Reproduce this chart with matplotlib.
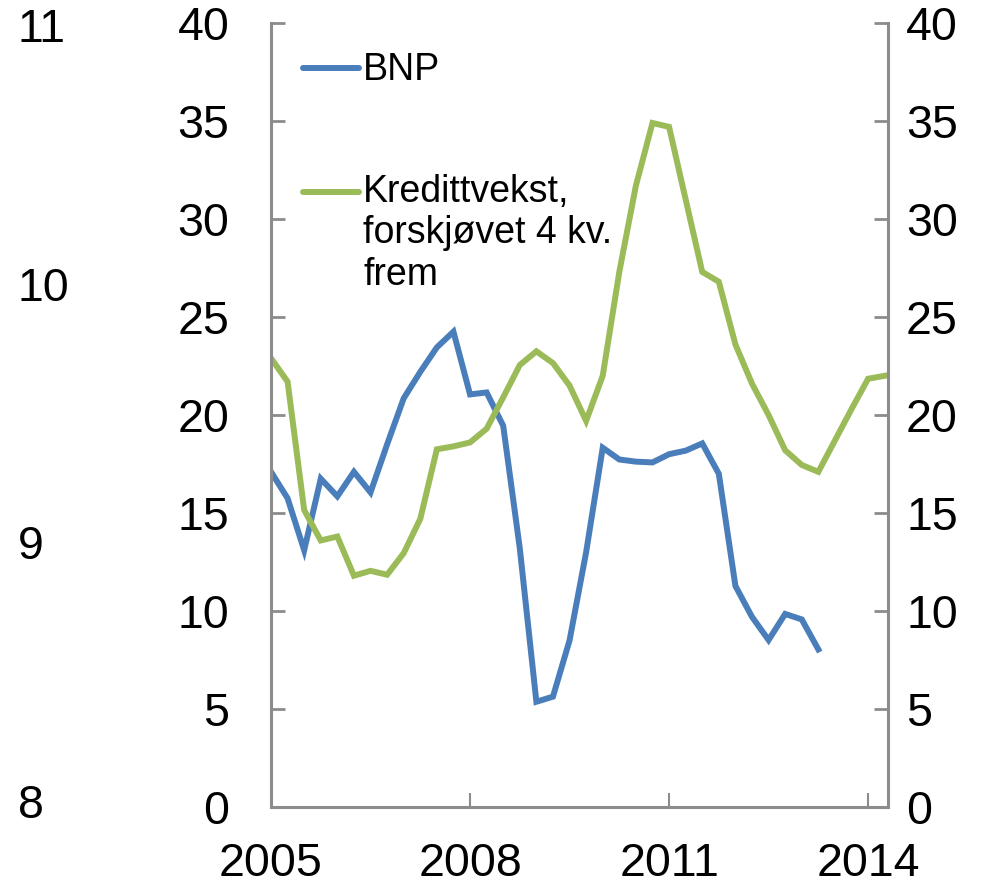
import matplotlib
matplotlib.use("Agg")
import matplotlib.pyplot as plt
from matplotlib.lines import Line2D

plt.rcParams['font.family'] = ['Liberation Sans', 'DejaVu Sans']

# ---- data (quarterly, 2005Q1 onwards) ----
bnp = [17.1, 15.75, 13.1, 16.75, 15.85, 17.1, 16.05, 18.5, 20.85, 22.2,
       23.45, 24.25, 21.05, 21.15, 19.45, 13.2, 5.37, 5.63, 8.5, 13.0,
       18.33, 17.73, 17.62, 17.58, 18.0, 18.18, 18.55, 17.0, 11.28, 9.7,
       8.52, 9.85, 9.57, 8.04]
kreditt = [22.9, 21.7, 15.15, 13.6, 13.8, 11.8, 12.05, 11.85, 12.95, 14.7,
           18.25, 18.4, 18.6, 19.3, 20.9, 22.55, 23.25, 22.65, 21.5, 19.7,
           22.0, 27.3, 31.7, 34.9, 34.7, 31.0, 27.3, 26.8, 23.6, 21.6,
           20.0, 18.2, 17.45, 17.1, 18.7, 20.3, 21.85, 22.0]
x_ticks = [0, 12, 24, 36]
x_labels = ["2005", "2008", "2011", "2014"]
y_ticks = [0, 5, 10, 15, 20, 25, 30, 35, 40]
far_ticks = [8, 9, 10, 11]
labels = ["BNP", "Kredittvekst,\nforskjøvet 4 kv.\nfrem"]

W, H = 998, 884
fig = plt.figure(figsize=(W / 100, H / 100), dpi=100)

L, R, T, B = 271, 888, 23, 807
ax = fig.add_axes([L / W, 1 - B / H, (R - L) / W, (B - T) / H])

blue = "#4a7ebb"
green = "#9bbb59"
grey = "#8c8c8c"
fs = 33.5
lw = 4.3

ax.plot(range(len(bnp)), bnp, color=blue, lw=lw, solid_joinstyle='miter')
ax.plot(range(len(kreditt)), kreditt, color=green, lw=lw, solid_joinstyle='miter')

ax.set_xlim(0, 37.2)
ax.set_ylim(0, 40)
ax.set_xticks(x_ticks)
ax.set_xticklabels(x_labels)
ax.set_yticks(y_ticks)

for s in ['left', 'right', 'bottom']:
    ax.spines[s].set_color(grey)
    ax.spines[s].set_linewidth(2.2)
ax.spines['top'].set_visible(False)

ax.tick_params(axis='y', direction='in', length=10, width=2, color=grey,
               labelsize=fs, pad=30, left=True, right=False)
ax.tick_params(axis='x', direction='in', length=10, width=1.5, color=grey,
               labelsize=fs, pad=25)
ax.xaxis.get_major_ticks()[0].tick1line.set_visible(False)

# right axis
axr = ax.twinx()
axr.set_ylim(0, 40)
axr.set_yticks(y_ticks)
axr.tick_params(axis='y', direction='in', length=10, width=2, color=grey,
                labelsize=fs, pad=13)
for s in axr.spines.values():
    s.set_visible(False)

# far-left axis
ax3 = fig.add_axes([17 / W, 1 - B / H, 0.001, (B - T) / H])
ax3.set_ylim(7.977, 11.008)
ax3.set_yticks(far_ticks)
ax3.yaxis.tick_right()
ax3.tick_params(axis='y', length=0, pad=0, labelsize=fs)
ax3.set_xticks([])
for s in ax3.spines.values():
    s.set_visible(False)
ax3.patch.set_visible(False)

# legend (manual)
def fx(px):
    return px / W

def fy(py):
    return 1 - py / H

for ycen, col in [(68, blue), (192, green)]:
    fig.add_artist(Line2D([fx(303), fx(359)], [fy(ycen), fy(ycen)], color=col,
                          lw=lw, solid_capstyle='round', transform=fig.transFigure))
fig.text(fx(363), fy(80), labels[0], fontsize=27, va='baseline', ha='left')
fig.text(fx(363), fy(285), labels[1], fontsize=27, va='baseline', ha='left',
         linespacing=1.2)

fig.savefig("out.png", dpi=100)
